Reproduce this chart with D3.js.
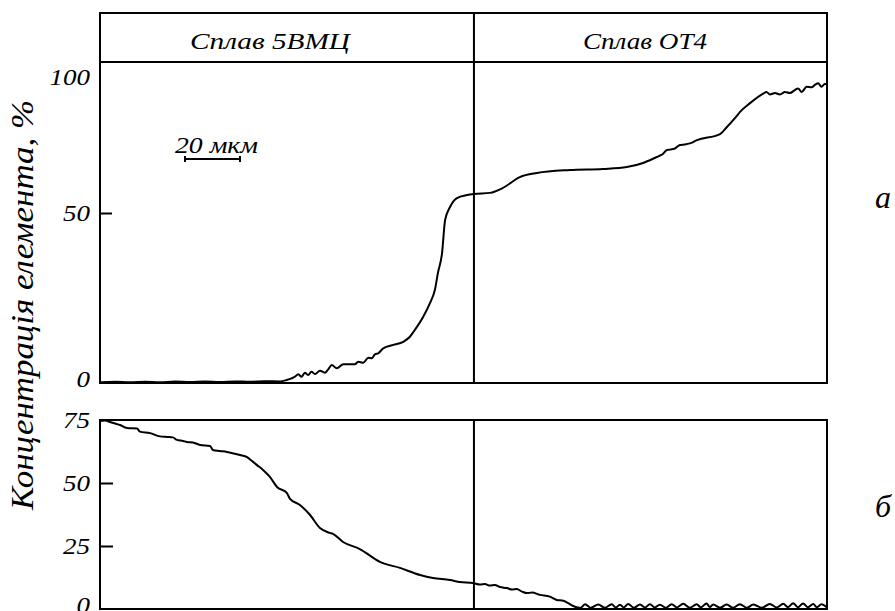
<!DOCTYPE html>
<html>
<head>
<meta charset="utf-8">
<script src="https://cdn.jsdelivr.net/npm/d3@7"></script>
<style>
  body { margin: 0; background: #fff; }
  svg { display: block; }
</style>
</head>
<body>
<svg id="chart"></svg>
<script>
const WIDTH = 895;
const HEIGHT = 611;
const FONT = '"Liberation Serif", "Times New Roman", serif';

// distance, мкм ; concentration, %
const tiProfile = [
    [0, 0.2], [5.5, 0.35], [10.9, 0.2], [16.4, 0.38], [21.8, 0.24], [27.3, 0.41], [32.7, 0.26], [38.2, 0.44],
    [43.6, 0.29], [49.1, 0.47], [54.5, 0.35], [60, 0.53], [65.5, 0.44], [67.9, 0.88], [69.7, 1.38], [70.9, 1.85],
    [72.1, 2.56], [73.3, 1.85], [74.5, 3.03], [75.7, 2.35], [76.9, 3.32], [78.2, 2.65], [80, 3.62], [81.8, 3.03],
    [83, 4.03], [84.3, 5.29], [86.1, 4.32], [88.5, 5.5], [92.7, 5.5], [93.9, 6.26], [95.7, 5.97], [97.6, 7.44],
    [98.8, 7.26], [100, 8.44], [101.2, 8.74], [103, 10.2], [106.7, 11.2], [110.3, 12.1], [112.7, 13.6], [114.5, 15.6],
    [117.5, 19.4], [120, 23.5], [121.8, 27.4], [122.9, 32.4], [124.4, 38.2], [125.5, 47.9], [127.3, 52.2], [129.8, 55.5],
    [133.5, 56.6], [136, 57.0], [141.8, 57.4], [146.5, 59.2], [152.7, 63.2], [158.9, 64.7], [170.9, 65.8], [182.9, 66.2],
    [191.6, 66.9], [197.5, 68.4], [202.5, 70.6], [203.6, 71.1], [204.7, 71.7], [206.2, 73.2], [207.3, 73.3], [209.1, 73.7],
    [210.9, 75.0], [212.7, 75.2], [214.5, 75.6], [217.1, 76.8], [225.5, 79.0], [228, 81.6], [231.6, 85.7], [232.7, 87.1],
    [236.4, 90.4], [241.2, 93.9], [242.4, 94.5], [243.6, 93.6], [245.5, 94.1], [247.3, 93.6], [249.1, 94.5], [250.9, 94.1],
    [252.7, 95.2], [253.9, 95.8], [255.2, 94.5], [257, 96.4], [258.8, 96.2], [260, 97.1], [261.2, 97.7], [262.4, 96.4],
    [263.6, 97.4], [264.4, 97.4]
];

const nbProfile = [
    [0, 74.6], [1.8, 74.8], [3.6, 74.2], [5.5, 73.6], [7.3, 73.0], [9.8, 71.8], [13.5, 71.6], [14.5, 70.4],
    [18.2, 69.8], [21.8, 68.5], [24.7, 68.3], [26.5, 68.1], [28, 67.1], [30.2, 66.7], [31.6, 66.3], [33.8, 66.1],
    [36.4, 65.1], [40, 64.7], [41.1, 63.1], [43.6, 62.7], [46.2, 62.3], [50.9, 61.1], [53.5, 60.3], [55.3, 58.7],
    [57.1, 57.1], [59.3, 55.2], [61.8, 52.4], [64.4, 48.4], [68, 46.0], [69.1, 43.7], [72.7, 41.3], [76.4, 37.3],
    [80, 32.1], [83.6, 30.2], [84.7, 29.8], [88.4, 26.6], [94.5, 23.8], [101.8, 18.7], [109.1, 16.3], [116.4, 13.5],
    [121.1, 12.3], [127.3, 11.5], [130.9, 10.7], [135.6, 10.3], [138.2, 9.7], [140, 9.9], [141.8, 9.3], [143.6, 9.5],
    [145.5, 8.7], [148, 8.3], [149.8, 7.7], [151.6, 7.9], [153.5, 6.9], [155.3, 6.3], [157.1, 6.5], [160, 5.6],
    [163.6, 4.9], [166.1, 3.6], [168.5, 3.3], [170.3, 2.3], [172.1, 1.2], [173.8, 0.6],
    [174.9, 0.5], [176.4, 1.9], [178.5, 0.5], [181.2, 1.8], [183.6, 0.5], [186.1, 1.9], [187.6, 0.6], [189.1, 1.7],
    [190.5, 0.6], [192.1, 2.0], [194.2, 0.5], [196.4, 1.8], [198.2, 0.6], [200, 1.9], [201.8, 0.6], [203.6, 1.7],
    [205.8, 0.5], [207.9, 1.9], [209.8, 0.6], [212.1, 2.1], [214.5, 0.5], [217, 1.9], [218.5, 0.7], [220.6, 2.2],
    [221.8, 0.8], [223, 1.8], [225.5, 0.5], [227.9, 1.8], [230.2, 0.5], [232.7, 1.9], [235.3, 0.5], [237.6, 1.8],
    [240.7, 0.5], [243.6, 2.0], [246.2, 0.6], [248.5, 2.1], [250.2, 0.7], [252.1, 2.3], [253.8, 0.7], [255.7, 2.2],
    [257.5, 0.7], [259.4, 2.0], [260.7, 0.7], [262.4, 1.9], [264.4, 0.6]
];

const distanceRange = [0, 264.4];
const interfaceAt = 136;
const scaleBarUm = 20;

const topTicks = [0, 50, 100];
const bottomTicks = [0, 25, 50, 75];
const alloys = ["Сплав 5ВМЦ", "Сплав ОТ4"];
const panelLabels = ["а", "б"];
const yTitle = "Концентрація елемента, %";

// layout
const LEFT = 100, RIGHT = 827;
const HEAD_TOP = 13, TOP_PLOT = 62, TOP_BOTTOM = 383;
const BOT_TOP = 420, BOT_BOTTOM = 609;

const svg = d3.select("#chart").attr("width", WIDTH).attr("height", HEIGHT);

const x = d3.scaleLinear().domain(distanceRange).range([LEFT, RIGHT]);
const yTop = d3.scaleLinear().domain([0, 50, 100]).range([TOP_BOTTOM, 213, 77]);
const yBot = d3.scaleLinear().domain([0, 75]).range([BOT_BOTTOM, BOT_TOP]);

// little helper so every label gets the same serif italic
function label(sel) {
    return sel.style("font-family", FONT).style("font-style", "italic").attr("fill", "#000");
}

// frames
svg.append("rect")
    .attr("x", LEFT).attr("y", HEAD_TOP)
    .attr("width", RIGHT - LEFT).attr("height", TOP_BOTTOM - HEAD_TOP)
    .attr("fill", "none").attr("stroke", "#000").attr("stroke-width", 2);
svg.append("line")
    .attr("x1", LEFT).attr("x2", RIGHT).attr("y1", TOP_PLOT).attr("y2", TOP_PLOT)
    .attr("stroke", "#000").attr("stroke-width", 2);
svg.append("rect")
    .attr("x", LEFT).attr("y", BOT_TOP)
    .attr("width", RIGHT - LEFT).attr("height", BOT_BOTTOM - BOT_TOP)
    .attr("fill", "none").attr("stroke", "#000").attr("stroke-width", 2);

// interface lines
svg.append("line")
    .attr("x1", x(interfaceAt)).attr("x2", x(interfaceAt)).attr("y1", HEAD_TOP).attr("y2", TOP_BOTTOM)
    .attr("stroke", "#000").attr("stroke-width", 2);
svg.append("line")
    .attr("x1", x(interfaceAt)).attr("x2", x(interfaceAt)).attr("y1", BOT_TOP).attr("y2", BOT_BOTTOM)
    .attr("stroke", "#000").attr("stroke-width", 2);

// header labels
const headerPos = [[190, 160], [583, 124]]; // x start, text length
svg.selectAll(".alloy")
    .data(alloys)
    .join("text")
    .attr("class", "alloy")
    .attr("x", (d, i) => headerPos[i][0])
    .attr("y", 49)
    .attr("font-size", 23)
    .attr("textLength", (d, i) => headerPos[i][1])
    .attr("lengthAdjust", "spacingAndGlyphs")
    .call(label)
    .text(d => d);

// axes
function styleAxis(g, shown) {
    g.attr("font-family", null).attr("font-size", null);
    g.select(".domain").remove();
    g.selectAll(".tick line")
        .attr("stroke-width", 2)
        .attr("display", d => shown.includes(d) ? null : "none");
    g.selectAll(".tick text")
        .call(label)
        .attr("font-size", 24)
        .attr("dy", d => d === 0 ? "0.15em" : "0.32em")
        .attr("textLength", d => String(d).length * 13.5)
        .attr("lengthAdjust", "spacingAndGlyphs");
}

svg.append("g")
    .attr("transform", `translate(${LEFT},0)`)
    .call(d3.axisLeft(yTop).tickValues(topTicks).tickSize(-12).tickPadding(10))
    .call(g => styleAxis(g, [50]));

svg.append("g")
    .attr("transform", `translate(${LEFT},0)`)
    .call(d3.axisLeft(yBot).tickValues(bottomTicks).tickSize(-13).tickPadding(10))
    .call(g => styleAxis(g, [25, 50]));

// curves
const lineTop = d3.line().x(d => x(d[0])).y(d => yTop(d[1])).curve(d3.curveMonotoneX);
const lineBot = d3.line().x(d => x(d[0])).y(d => yBot(d[1])).curve(d3.curveMonotoneX);

svg.append("path")
    .datum(tiProfile)
    .attr("d", lineTop)
    .attr("fill", "none").attr("stroke", "#000").attr("stroke-width", 2);

svg.append("path")
    .datum(nbProfile)
    .attr("d", lineBot)
    .attr("fill", "none").attr("stroke", "#000").attr("stroke-width", 2);

// scale bar
const barX = 185, barY = 159;
const barW = x(scaleBarUm) - x(0);
const bar = svg.append("g").attr("stroke", "#000").attr("stroke-width", 2);
bar.append("line").attr("x1", barX).attr("x2", barX + barW).attr("y1", barY).attr("y2", barY);
bar.append("line").attr("x1", barX).attr("x2", barX).attr("y1", barY - 3).attr("y2", barY + 3);
bar.append("line").attr("x1", barX + barW).attr("x2", barX + barW).attr("y1", barY - 3).attr("y2", barY + 3);
svg.append("text")
    .attr("x", 175).attr("y", 153)
    .attr("font-size", 23)
    .attr("textLength", 83)
    .attr("lengthAdjust", "spacingAndGlyphs")
    .call(label)
    .text(`${scaleBarUm} мкм`);

// y title
svg.append("text")
    .attr("transform", "translate(33,305) rotate(-90)")
    .attr("text-anchor", "middle")
    .attr("font-size", 32)
    .attr("textLength", 410)
    .attr("lengthAdjust", "spacingAndGlyphs")
    .call(label)
    .text(yTitle);

// panel letters
svg.selectAll(".panel")
    .data(panelLabels)
    .join("text")
    .attr("class", "panel")
    .attr("x", 883)
    .attr("y", (d, i) => i === 0 ? 208 : 517)
    .attr("text-anchor", "middle")
    .attr("font-size", 32)
    .call(label)
    .text(d => d);
</script>
</body>
</html>
